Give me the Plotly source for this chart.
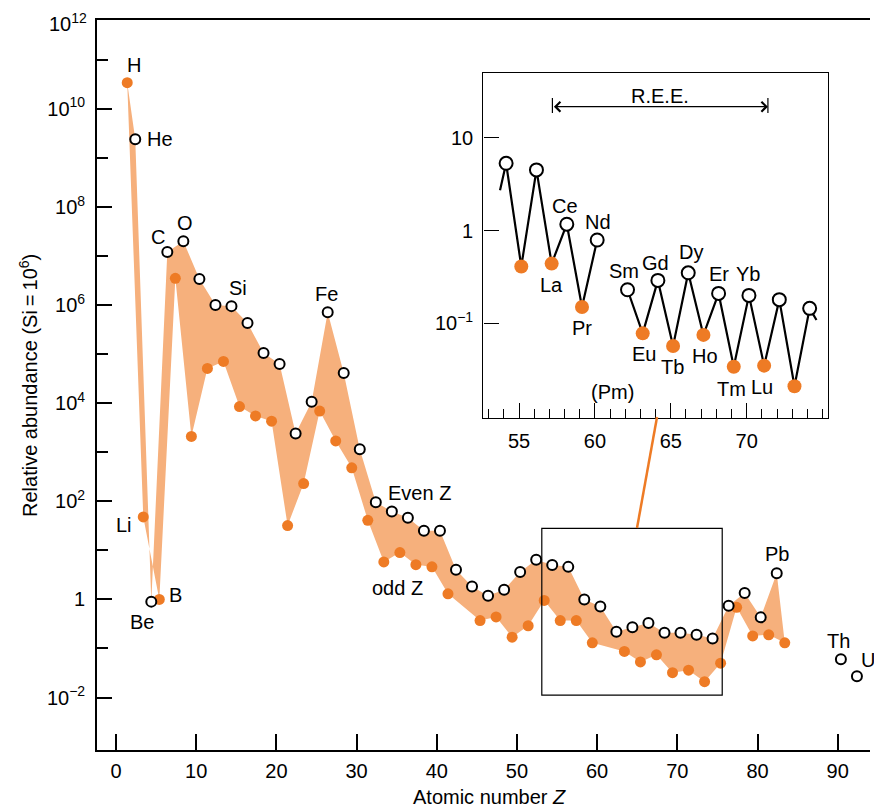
import math
import plotly.graph_objects as go

# ---------------- data ----------------
even_names = ["He", "Be", "C", "O", "Ne", "Mg", "Si", "S", "Ar", "Ca", "Ti", "Cr", "Fe", "Ni", "Zn",
              "Ge", "Se", "Kr", "Sr", "Zr", "Mo", "Ru", "Pd", "Cd", "Sn", "Te", "Xe", "Ba", "Ce",
              "Nd", "Sm", "Gd", "Dy", "Er", "Yb", "Hf", "W", "Os", "Pt", "Hg", "Pb", "Th", "U"]
even_z = [2, 4, 6, 8, 10, 12, 14, 16, 18, 20, 22, 24, 26, 28, 30, 32, 34, 36, 38, 40, 42, 44, 46,
          48, 50, 52, 54, 56, 58, 60, 62, 64, 66, 68, 70, 72, 74, 76, 78, 80, 82, 90, 92]
even_abund = [2.4e9, 0.9, 1.2e7, 2.0e7, 3.4e6, 1.0e6, 9.5e5, 4.3e5, 1.05e5, 6.3e4, 2400, 1.07e4,
              7.1e5, 4.1e4, 1150, 95, 62, 46, 25, 25, 4.0, 1.83, 1.18, 1.57, 3.6, 6.4, 5.0, 4.6,
              1.0, 0.72, 0.22, 0.27, 0.33, 0.21, 0.21, 0.19, 0.16, 0.74, 1.35, 0.43, 3.4, 0.06, 0.027]

odd_names = ["H", "Li", "B", "N", "F", "Na", "Al", "P", "Cl", "K", "Sc", "V", "Mn", "Co", "Cu",
             "Ga", "As", "Br", "Rb", "Y", "Nb", "Rh", "Ag", "In", "Sb", "I", "Cs", "La", "Pr",
             "Eu", "Tb", "Ho", "Tm", "Lu", "Ta", "Re", "Ir", "Au", "Tl", "Bi"]
odd_z = [1, 3, 5, 7, 9, 11, 13, 15, 17, 19, 21, 23, 25, 27, 29, 31, 33, 35, 37, 39, 41, 45, 47,
         49, 51, 53, 55, 57, 59, 63, 65, 67, 69, 71, 73, 75, 77, 79, 81, 83]
odd_abund = [3.4e10, 48, 1.0, 3.5e6, 2100, 5.1e4, 7.1e4, 8500, 5500, 4300, 32, 230, 6900, 1700,
             480, 41, 5.8, 9.0, 5.1, 4.6, 1.3, 0.37, 0.44, 0.17, 0.29, 0.95, 0.37, 0.37, 0.13,
             0.087, 0.053, 0.074, 0.032, 0.036, 0.021, 0.05, 0.69, 0.18, 0.19, 0.13]

band_end = "Pb"  # last even element inside the shaded band

# inset: rare-earth region
inset_names = ["Xe", "Cs", "Ba", "La", "Ce", "Pr", "Nd", "Sm", "Eu", "Gd", "Tb", "Dy", "Ho",
               "Er", "Tm", "Yb", "Lu", "Hf", "Ta", "W"]
inset_z = [54, 55, 56, 57, 58, 59, 60, 62, 63, 64, 65, 66, 67, 68, 69, 70, 71, 72, 73, 74]
inset_abund = [5.3, 0.41, 4.5, 0.44, 1.17, 0.15, 0.79, 0.23, 0.078, 0.29, 0.057, 0.35, 0.075,
               0.21, 0.034, 0.20, 0.035, 0.18, 0.021, 0.145]
inset_lead = (53, 1.0)     # I, partly drawn line into the inset
inset_tail = (75, 0.076)   # Re, partly drawn line out of the inset
ree_range = (57.2, 71.4)   # La .. Lu arrow

main_xticks = [0, 10, 20, 30, 40, 50, 60, 70, 80, 90]
main_yticks = [1e-2, 1, 1e2, 1e4, 1e6, 1e8, 1e10]
main_yticktext = ["10<sup>\u22122</sup>", "1", "10<sup>2</sup>", "10<sup>4</sup>",
                  "10<sup>6</sup>", "10<sup>8</sup>", "10<sup>10</sup>"]
main_yminor = [1e-1, 1e1, 1e3, 1e5, 1e7, 1e9, 1e11]
inset_xticks = [55, 60, 65, 70]
inset_yticks = [0.1, 1, 10]
inset_yticktext = ["10<sup>\u22121</sup>", "1", "10"]

# ---------------- style ----------------
ORANGE = "#EE7B25"
BAND = "#F6B07C"
FONT = "Liberation Sans, Arial, Helvetica, sans-serif"
FS = 20
OFF = 0.4        # points sit slightly right of the integer Z in the drawing
IOFF = 0.15

fig = go.Figure()

# shaded band: upper edge through even Z, lower edge through odd Z
iend = even_names.index(band_end) + 1
bx = [odd_z[0] + OFF] + [z + OFF for z in even_z[:iend]] + [z + OFF for z in odd_z[1:]][::-1]
by = [odd_abund[0]] + even_abund[:iend] + odd_abund[1:][::-1]
fig.add_trace(go.Scatter(x=bx, y=by, mode="lines", fill="toself", fillcolor=BAND,
                         line=dict(width=0, color=BAND), hoverinfo="skip", showlegend=False))

fig.add_trace(go.Scatter(x=[z + OFF for z in odd_z], y=odd_abund, mode="markers",
                         marker=dict(size=11, color=ORANGE, line=dict(width=0)),
                         text=odd_names, showlegend=False))
fig.add_trace(go.Scatter(x=[z + OFF for z in even_z], y=even_abund, mode="markers",
                         marker=dict(size=10, color="white", line=dict(width=2, color="black")),
                         text=even_names, showlegend=False))

# inset line with partial lead-in/out
def partial(p_from, p_to, f):
    x = p_from[0] + f * (p_to[0] - p_from[0])
    ly = math.log10(p_from[1]) + f * (math.log10(p_to[1]) - math.log10(p_from[1]))
    return x, 10 ** ly

gap_index = inset_z.index(62)
lead = partial((inset_z[0], inset_abund[0]), inset_lead, 0.4)
tail = partial((inset_z[-1], inset_abund[-1]), inset_tail, 0.45)
lx = [lead[0]] + inset_z[:gap_index] + [None] + inset_z[gap_index:] + [tail[0]]
ly = [lead[1]] + inset_abund[:gap_index] + [None] + inset_abund[gap_index:] + [tail[1]]
fig.add_trace(go.Scatter(x=[v + IOFF if v is not None else None for v in lx], y=ly,
                         mode="lines", line=dict(color="black", width=2.2),
                         xaxis="x2", yaxis="y2", connectgaps=False, showlegend=False,
                         hoverinfo="skip"))
iodd = [i for i, z in enumerate(inset_z) if z % 2 == 1]
ieven = [i for i, z in enumerate(inset_z) if z % 2 == 0]
fig.add_trace(go.Scatter(x=[inset_z[i] + IOFF for i in iodd], y=[inset_abund[i] for i in iodd],
                         mode="markers", marker=dict(size=14, color=ORANGE),
                         xaxis="x2", yaxis="y2", showlegend=False))
fig.add_trace(go.Scatter(x=[inset_z[i] + IOFF for i in ieven], y=[inset_abund[i] for i in ieven],
                         mode="markers",
                         marker=dict(size=13, color="white", line=dict(width=2, color="black")),
                         xaxis="x2", yaxis="y2", showlegend=False))

annotations = []

def lab(text, z, val, dx, dy, xref="x", yref="y", xanchor="center"):
    annotations.append(dict(text=text, x=z, y=math.log10(val), xref=xref, yref=yref,
                            showarrow=False, xshift=dx, yshift=dy, xanchor=xanchor,
                            yanchor="middle",
                            font=dict(size=FS, color="black", family=FONT)))

def even_pt(n):
    i = even_names.index(n)
    return even_z[i] + OFF, even_abund[i]

def odd_pt(n):
    i = odd_names.index(n)
    return odd_z[i] + OFF, odd_abund[i]

lab("H", *odd_pt("H"), 7, 18)
lab("He", *even_pt("He"), 10, 0, xanchor="left")
lab("C", *even_pt("C"), -9, 15)
lab("O", *even_pt("O"), 2, 18)
lab("Si", *even_pt("Si"), 7, 18)
lab("Fe", *even_pt("Fe"), -1, 18)
lab("Li", *odd_pt("Li"), -19, -8)
lab("Be", *even_pt("Be"), -9, -20)
lab("B", *odd_pt("B"), 16, 4)
lab("Even Z", *even_pt("Ge"), 10, 9, xanchor="left")
lab("odd Z", *odd_pt("As"), 14, -26)
lab("Pb", *even_pt("Pb"), 0, 19)
lab("Th", *even_pt("Th"), -2, 18)
lab("U", *even_pt("U"), 11, 16)

def ipt(n):
    i = inset_names.index(n)
    return inset_z[i] + IOFF, inset_abund[i]

for n, dx, dy in [("Ce", -2, 18), ("Nd", 1, 18), ("La", 0, -21), ("Pr", 0, -21),
                  ("Sm", -4, 19), ("Gd", -2, 17), ("Eu", 1, -21), ("Dy", 3, 21),
                  ("Tb", -1, -21), ("Ho", 2, -21), ("Er", 0, 19), ("Yb", -1, 21),
                  ("Tm", -2, -22), ("Lu", -2, -21)]:
    lab(n, *ipt(n), dx, dy, xref="x2", yref="y2")

# (Pm) placeholder
annotations.append(dict(text="(Pm)", x=61 + IOFF, y=-1.737, xref="x2", yref="y2", showarrow=False,
                        yanchor="middle", font=dict(size=FS, color="black", family=FONT)))
# R.E.E. arrow
annotations.append(dict(text="", x=ree_range[1], y=1.334, ax=ree_range[0], ay=1.334,
                        xref="x2", yref="y2", axref="x2", ayref="y2", showarrow=True,
                        arrowhead=4, startarrowhead=4, arrowside="end+start",
                        arrowsize=1.6, startarrowsize=1.6, arrowwidth=1.2, arrowcolor="black"))
annotations.append(dict(text="R.E.E.", x=(ree_range[0] + ree_range[1]) / 2, y=1.334,
                        xref="x2", yref="y2", showarrow=False, yshift=11, yanchor="middle",
                        font=dict(size=FS, color="black", family=FONT)))
# top tick label of main y axis
annotations.append(dict(text="10<sup>12</sup>", x=0, y=0.9959, xref="paper", yref="paper",
                        xanchor="right", yanchor="middle", showarrow=False, xshift=-8,
                        font=dict(size=FS, color="black", family=FONT)))
# axis titles
annotations.append(dict(text="Relative abundance (Si\u2009=\u200910<sup>6</sup>)", x=-0.0893, y=0.5,
                        xref="paper", yref="paper", textangle=-90, showarrow=False,
                        xanchor="center", yanchor="middle",
                        font=dict(size=FS, color="black", family=FONT)))
annotations.append(dict(text="Atomic number <i>Z</i>", x=0.508, y=-0.0644,
                        xref="paper", yref="paper", showarrow=False,
                        xanchor="center", yanchor="middle",
                        font=dict(size=FS, color="black", family=FONT)))

shapes = [
    # zoom box in main plot
    dict(type="rect", xref="x", yref="paper", x0=53.1, x1=75.6, y0=0.0753, y1=0.3037,
         line=dict(color="black", width=1.2)),
    # connector to inset
    dict(type="line", xref="paper", yref="paper", x0=0.6986, y0=0.3041, x1=0.7245, y1=0.4562,
         line=dict(color=ORANGE, width=2.5)),
    # end bars of R.E.E. arrow
    dict(type="line", xref="x2", yref="y2 domain", x0=ree_range[0], x1=ree_range[0],
         y0=0.8847, y1=0.9283, line=dict(color="black", width=1.2)),
    dict(type="line", xref="x2", yref="y2 domain", x0=ree_range[1], x1=ree_range[1],
         y0=0.8847, y1=0.9283, line=dict(color="black", width=1.2)),
]

tickfont = dict(size=FS, color="black", family=FONT)
fig.update_layout(
    width=874, height=809,
    margin=dict(l=97, r=4, t=20, b=59),
    paper_bgcolor="white", plot_bgcolor="white",
    font=dict(family=FONT, size=FS, color="black"),
    showlegend=False,
    annotations=annotations,
    shapes=shapes,
    xaxis=dict(range=[-2.37, 94.03], tickvals=main_xticks, ticks="inside", ticklen=16,
               tickwidth=1.5, tickcolor="black", showline=True, linewidth=1.8, linecolor="black",
               mirror=True, showgrid=False, zeroline=False, tickfont=tickfont,
               ticklabelstandoff=2),
    yaxis=dict(type="log", range=[-3.07, 11.81], tickvals=main_yticks, ticktext=main_yticktext,
               ticks="inside", ticklen=15, tickwidth=1.5, tickcolor="black", showline=True,
               linewidth=1.8, linecolor="black", showgrid=False, zeroline=False,
               tickfont=tickfont, ticklabelstandoff=6,
               minor=dict(tickvals=main_yminor, ticks="inside", ticklen=11, tickwidth=1.5,
                          tickcolor="black", showgrid=False)),
    xaxis2=dict(domain=[0.4998, 0.9453], anchor="y2", range=[52.65, 75.34],
                tickvals=inset_xticks, ticks="inside", ticklen=15, tickwidth=1.3,
                tickcolor="black", showline=True, linewidth=1.4, linecolor="black", mirror=True,
                showgrid=False, zeroline=False, tickfont=tickfont, ticklabelstandoff=5,
                minor=dict(tickvals=list(range(53, 76)), ticks="inside", ticklen=9,
                           tickwidth=1.2, tickcolor="black", showgrid=False)),
    yaxis2=dict(domain=[0.4552, 0.927], anchor="x2", type="log", range=[-2.017, 1.694],
                tickvals=inset_yticks, ticktext=inset_yticktext, ticks="inside", ticklen=15,
                tickwidth=1.3, tickcolor="black", showline=True, linewidth=1.4,
                linecolor="black", mirror=True, showgrid=False, zeroline=False,
                tickfont=tickfont, ticklabelstandoff=5),
)

fig.write_html("out.html", config={"displayModeBar": False},
               post_script="document.body.style.margin='0';")
